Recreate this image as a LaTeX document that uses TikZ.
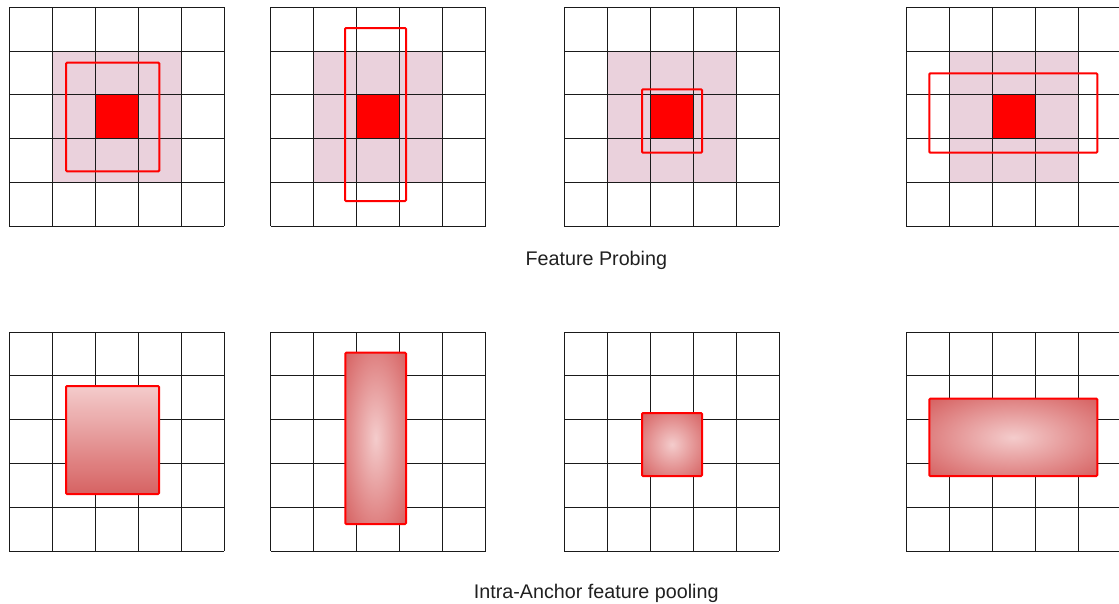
\documentclass[tikz,border=0pt]{standalone}
\usepackage{fontspec}
\setmainfont{Liberation Sans}
\usepackage{xcolor}
\usepackage{tikz}
\usetikzlibrary{
  calc
}
\definecolor{ProbeShade}{HTML}{EAD1DC}
\definecolor{AnchorRed}{HTML}{FF0000}
\definecolor{GlowLight}{HTML}{F4CCCC}
\definecolor{GlowDark}{HTML}{D66262}
\definecolor{GridLine}{HTML}{1A1A1A}
\definecolor{CaptionGray}{HTML}{202020}
\pgfdeclareradialshading{anchorglow}{\pgfpoint{0bp}{0bp}}{
  color(0bp)=(GlowLight);
  color(35bp)=(GlowDark);
  color(50bp)=(GlowDark)
}
\tikzset{
  gridline/.style={
    draw=GridLine,
    line width=0.75pt
  },
  probearea/.style={
    fill=ProbeShade,
    draw=none
  },
  centercell/.style={
    fill=AnchorRed,
    draw=none
  },
  anchorbox/.style={
    draw=AnchorRed,
    line width=1.5pt,
    rounded corners=0.75pt
  },
  pooledbox/.style={
    anchorbox,
    shading=anchorglow
  },
  pooledlinear/.style={
    anchorbox,
    top color=GlowLight,
    bottom color=GlowDark
  },
  caption/.style={
    font=\fontsize{14.8}{17}\selectfont,
    text=CaptionGray,
    inner sep=0pt,
    anchor=base
  }
}

\begin{document}
\begin{tikzpicture}[x=0.75pt,y=-0.75pt]

  \clip (0,0) rectangle (1119,603);

  \foreach \ox in {9.3,270.7,564,906} {
    \fill[probearea]
    (\ox+43,7.3+43.8) rectangle
    (\ox+172,7.3+175.2);
    \fill[centercell]
    (\ox+86,7.3+87.6) rectangle
    (\ox+129,7.3+131.4);
  }

  \foreach \ox/\oy in {9.3/7.3,270.7/7.3,564/7.3,906/7.3,
                       9.3/332,270.7/332,564/332,906/332} {
    \foreach \i in {0,...,5} {
      \draw[gridline]
      (\ox+43*\i,\oy) --
      (\ox+43*\i,\oy+219);
      \draw[gridline]
      (\ox,\oy+43.8*\i) --
      (\ox+215,\oy+43.8*\i);
    }
  }

  \draw[anchorbox] (66,62.7) rectangle (159.3,171.3);
  \draw[anchorbox] (345,28) rectangle (406,201);
  \draw[anchorbox] (642,89.3) rectangle (702,152.7);
  \draw[anchorbox] (929.3,73.3) rectangle (1097.3,152.7);

  \node[caption] (probinglabel) at (596.3,265) {Feature Probing};

  \draw[pooledlinear] (66,386) rectangle (159,494);
  \draw[pooledbox] (345.3,352.7) rectangle (406,524);
  \draw[pooledbox] (642,413) rectangle (702,476);
  \draw[pooledbox] (929.3,398.7) rectangle (1097.3,476);

  \node[caption] (poolinglabel) at (596.2,598) {Intra-Anchor feature pooling};

\end{tikzpicture}
\end{document}
